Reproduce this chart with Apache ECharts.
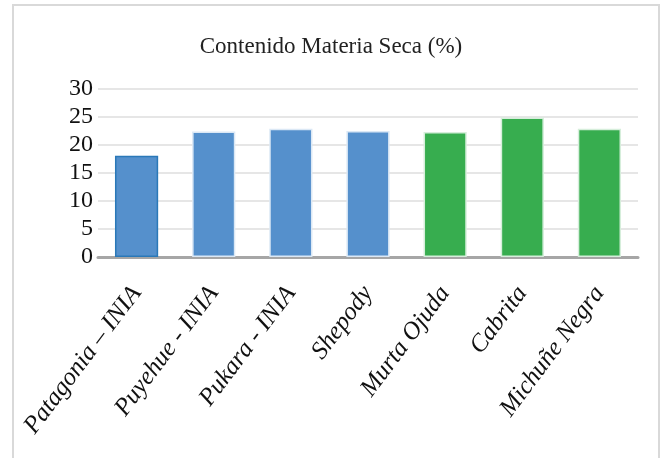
<!DOCTYPE html>
<html><head><meta charset="utf-8">
<script src="https://cdn.jsdelivr.net/npm/echarts@6/dist/echarts.min.js"></script>
<style>html,body{margin:0;padding:0;background:#fff}#c{width:662px;height:458px}</style>
</head><body><div id="c"></div>
<script>
const categories = ['Patagonia – INIA','Puyehue - INIA','Pukara - INIA','Shepody','Murta Ojuda','Cabrita','Michuñe Negra'];
const values = [18.1, 22.4, 22.9, 22.5, 22.3, 24.9, 22.9];
const barColors = ['#5590cc','#5590cc','#5590cc','#5590cc','#37ad4f','#37ad4f','#37ad4f'];
const borderColors = ['#2a78b8','#dbe8f5','#dbe8f5','#dbe8f5','#d6eedb','#d6eedb','#d6eedb'];
const yTicks = [0,5,10,15,20,25,30];
const title = 'Contenido Materia Seca (%)';

const chart = echarts.init(document.getElementById('c'), null, {renderer:'canvas'});
chart.setOption({
  animation:false,
  backgroundColor:'#fff',
  title:{text:title,left:'center',top:30,textStyle:{fontFamily:'Liberation Serif',fontWeight:'normal',fontSize:23,color:'#222'}},
  graphic:[{type:'rect',shape:{x:13,y:5,width:646,height:460},style:{fill:'none',stroke:'#d9d9d9',lineWidth:2},silent:true}],
  grid:{left:98,right:24,top:89,bottom:201,containLabel:false},
  xAxis:{type:'category',data:categories,
    axisLine:{lineStyle:{color:'#a6a6a6',width:3}},
    axisTick:{show:false},
    axisLabel:{rotate:53,interval:0,margin:32,fontFamily:'Liberation Serif',fontStyle:'italic',fontSize:25,color:'#111'}},
  yAxis:{type:'value',min:yTicks[0],max:yTicks[yTicks.length-1],interval:5,
    axisLine:{show:false},axisTick:{show:false},
    splitLine:{lineStyle:{color:'#e6e6e6',width:2}},
    axisLabel:{margin:5,fontFamily:'Liberation Serif',fontSize:24,color:'#111'}},
  series:[{type:'bar',barWidth:'56%',
    data:values.map((v,i)=>({value:v,itemStyle:{color:barColors[i],borderColor:borderColors[i],borderWidth:1.5}}))}]
});
</script></body></html>
